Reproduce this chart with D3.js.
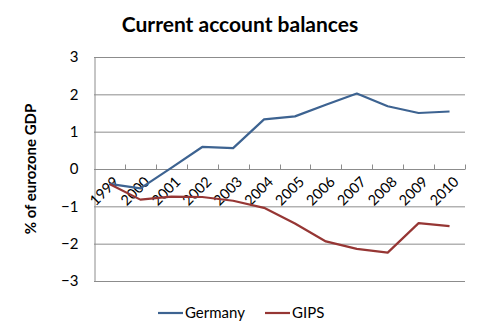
<!DOCTYPE html>
<html>
<head>
<meta charset="utf-8">
<script src="https://cdn.jsdelivr.net/npm/d3@7/dist/d3.min.js"></script>
<style>
  html, body { margin: 0; padding: 0; background: #fff; }
  svg { display: block; font-family: Lato, "Open Sans", sans-serif; }
</style>
</head>
<body>
<svg id="chart" width="480" height="335"></svg>
<script>
// Current account balances, % of eurozone GDP
const years = ["1999","2000","2001","2002","2003","2004","2005","2006","2007","2008","2009","2010"];
const germany = [-0.40, -0.52, 0.03, 0.59, 0.56, 1.33, 1.41, 1.72, 2.02, 1.68, 1.50, 1.54];
const gips = [-0.40, -0.82, -0.74, -0.75, -0.85, -1.04, -1.46, -1.94, -2.14, -2.24, -1.45, -1.53];
const yTicks = [-3, -2, -1, 0, 1, 2, 3];
const seriesNames = ["Germany", "GIPS"];
const seriesColors = ["#3D6391", "#963634"];

const svg = d3.select("#chart");
const plotLeft = 94, plotRight = 465, plotTop = 57, plotBottom = 281;

const x = d3.scaleBand().domain(years).range([plotLeft, plotRight]);
const y = d3.scaleLinear().domain([-3, 3]).range([plotBottom, plotTop]);

// Title
svg.append("text")
  .attr("x", 240).attr("y", 32)
  .attr("text-anchor", "middle")
  .attr("font-size", 21).attr("font-weight", "bold")
  .attr("fill", "#000")
  .text("Current account balances");

// Horizontal gridlines
svg.append("g").selectAll("line").data(yTicks).join("line")
  .attr("x1", plotLeft).attr("x2", plotRight)
  .attr("y1", d => y(d) + 0.5).attr("y2", d => y(d) + 0.5)
  .attr("stroke", "#8c8c8c").attr("stroke-width", 1);

// Y axis
const yAxis = d3.axisLeft(y).tickValues(yTicks).tickSize(0).tickPadding(16)
  .tickFormat(d3.format("d"));
const gy = svg.append("g").attr("transform", `translate(${plotLeft + 0.5},0)`).call(yAxis);
gy.select(".domain").attr("stroke", "#8c8c8c");
gy.selectAll("text").attr("font-size", 15).attr("fill", "#000")
  .attr("font-family", "Lato, 'Open Sans', sans-serif");

// X axis crossing at zero, ticks on category boundaries pointing up
const gx = svg.append("g").attr("transform", `translate(0,${y(0) + 0.5})`);
gx.append("line").attr("x1", plotLeft).attr("x2", plotRight).attr("stroke", "#8c8c8c");
const bounds = years.map(d => x(d)).concat([plotRight]);
gx.selectAll("line.tick").data(bounds.slice(1)).join("line")
  .attr("class", "tick")
  .attr("x1", d => Math.round(d) + 0.5).attr("x2", d => Math.round(d) + 0.5)
  .attr("y1", 0).attr("y2", -5)
  .attr("stroke", "#8c8c8c");
gx.selectAll("text").data(years).join("text")
  .attr("transform", d => `translate(${x(d) + x.bandwidth() / 2 + 3},6) rotate(-45)`)
  .attr("text-anchor", "end")
  .attr("dy", "0.7em")
  .attr("font-size", 14.5).attr("fill", "#000")
  .text(d => d);

// Y axis title
svg.append("text")
  .attr("transform", `translate(36,169) rotate(-90)`)
  .attr("text-anchor", "middle")
  .attr("font-size", 15).attr("font-weight", "bold")
  .attr("fill", "#000")
  .text("% of eurozone GDP");

// Lines
const line = d3.line().x((d, i) => x(years[i]) + x.bandwidth() / 2).y(d => y(d));
[germany, gips].forEach((s, i) => {
  svg.append("path").datum(s)
    .attr("d", line)
    .attr("fill", "none")
    .attr("stroke", seriesColors[i])
    .attr("stroke-width", 2.2)
    .attr("stroke-linejoin", "round");
});

// Legend
const legendX = [158, 265];
seriesNames.forEach((n, i) => {
  const g = svg.append("g").attr("transform", `translate(${legendX[i]},313)`);
  g.append("line").attr("x1", 0).attr("x2", 25).attr("y1", 0).attr("y2", 0)
    .attr("stroke", seriesColors[i]).attr("stroke-width", 2.2);
  g.append("text").attr("x", 27).attr("y", 5)
    .attr("font-size", 15).attr("fill", "#000").text(n);
});
</script>
</body>
</html>
